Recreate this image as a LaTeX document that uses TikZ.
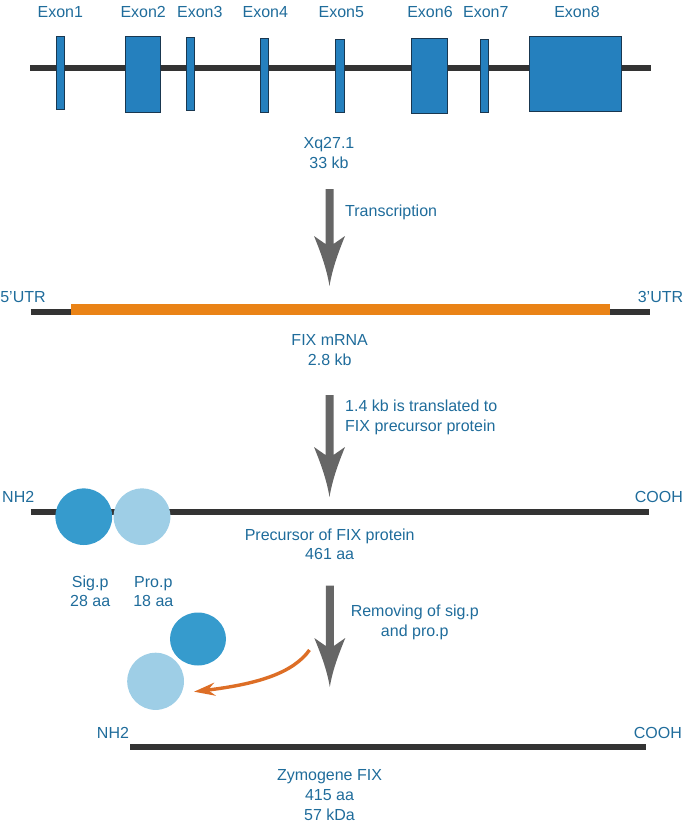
\documentclass[tikz,border=0pt]{standalone}
\usepackage{fontspec}
\setmainfont{Liberation Sans}
\usetikzlibrary{arrows.meta}
\definecolor{txtblue}{RGB}{31,108,155}
\definecolor{exonblue}{RGB}{37,128,190}
\definecolor{exonedge}{RGB}{25,55,80}
\definecolor{darkline}{RGB}{51,51,51}
\definecolor{mrnaorange}{RGB}{234,131,22}
\definecolor{arrorange}{RGB}{221,110,38}
\definecolor{arrowgray}{RGB}{102,102,102}
\definecolor{sigblue}{RGB}{54,155,205}
\definecolor{problue}{RGB}{158,206,230}
\newcommand{\bigdownarrow}[4]{%
  \fill[arrowgray] (#1-4,#2) -- (#1-4,#3+8) -- (#1-15.5,#3)
    .. controls (#1-9,#3+16) and (#1-3,#4-18) .. (#1,#4)
    .. controls (#1+3,#4-18) and (#1+9,#3+16) .. (#1+15.5,#3)
    -- (#1+4,#3+8) -- (#1+4,#2) -- cycle;}
\begin{document}
\begin{tikzpicture}[x=1pt,y=-1pt,
  lbl/.style={text=txtblue, inner sep=0pt, anchor=base, font=\fontsize{16}{19}\selectfont},
  lbll/.style={lbl, anchor=base west},
  lblr/.style={lbl, anchor=base east},
  exonbox/.style={fill=exonblue, draw=exonedge, line width=0.9pt},
  strand/.style={draw=darkline, line width=6pt},
]
\useasboundingbox (0,0) rectangle (685,823);

% ---------- gene ----------
\coordinate (dnaL) at (30,67.5);
\coordinate (dnaR) at (651,67.5);
\draw[strand] (dnaL) -- (dnaR);
\draw[exonbox] (56,36) rectangle (64.6,109);
\draw[exonbox] (125,36) rectangle (160.7,112);
\draw[exonbox] (186,37) rectangle (194.3,110);
\draw[exonbox] (260,38.3) rectangle (268.6,112);
\draw[exonbox] (335.8,39) rectangle (344.5,112.7);
\draw[exonbox] (411.8,38.3) rectangle (447.6,113.3);
\draw[exonbox] (480,39.3) rectangle (488.6,112.7);
\draw[exonbox] (529.7,36) rectangle (621.8,111.3);

\node[lbl] (e1) at (60.3,17) {Exon1};
\node[lbl] (e2) at (143.2,17) {Exon2};
\node[lbl] (e3) at (199.8,17) {Exon3};
\node[lbl] (e4) at (265.3,17) {Exon4};
\node[lbl] (e5) at (341.3,17) {Exon5};
\node[lbl] (e6) at (430,17) {Exon6};
\node[lbl] (e7) at (485.8,17) {Exon7};
\node[lbl] (e8) at (577,17) {Exon8};

\node[lbl] (xq) at (329,148.4) {Xq27.1};
\node[lbl] (kb33) at (329,168.4) {33 kb};

% ---------- transcription ----------
\bigdownarrow{329.5}{189}{236}{286}
\node[lbll] (trans) at (345,216.7) {Transcription};

% ---------- mRNA ----------
\coordinate (mL) at (30.6,312.2);
\coordinate (mR) at (650,312.2);
\draw[draw=darkline, line width=5.7pt] (mL) -- (mR);
\fill[mrnaorange] (70.7,304.3) rectangle (610,315);
\node[lbl] (utr5) at (23,302.7) {5'UTR};
\node[lbl] (utr3) at (660.5,302.7) {3'UTR};
\node[lbl] (mrna) at (329.7,345) {FIX mRNA};
\node[lbl] (kb28) at (329.7,365) {2.8 kb};

% ---------- translation ----------
\bigdownarrow{329.5}{395}{447}{497}
\node[lbll] (tr1) at (345,411.7) {1.4 kb is translated to};
\node[lbll] (tr2) at (345,431) {FIX precursor protein};

% ---------- precursor ----------
\coordinate (pL) at (30.6,512);
\coordinate (pR) at (649,512);
\draw[strand] (pL) -- (pR);
\fill[sigblue] (83.8,516.7) ellipse [x radius=28.4, y radius=28.3];
\fill[problue] (142,516.7) ellipse [x radius=28.4, y radius=28.3];
\node[lbll] (nh2a) at (2,502.7) {NH2};
\node[lblr] (cooha) at (683,502.7) {COOH};
\node[lbl] (prec) at (329.7,540) {Precursor of FIX protein};
\node[lbl] (aa461) at (329.7,559.3) {461 aa};
\node[lbl] (sigp) at (90.2,587.3) {Sig.p};
\node[lbl] (aa28) at (90.2,606) {28 aa};
\node[lbl] (prop) at (153.3,587.3) {Pro.p};
\node[lbl] (aa18) at (153.3,606) {18 aa};

% ---------- removal ----------
\bigdownarrow{329.8}{585.5}{638}{687}
\node[lbl] (rem1) at (414.8,616.7) {Removing of sig.p};
\node[lbl] (rem2) at (414.8,636.7) {and pro.p};
\fill[sigblue] (198,639) ellipse [x radius=28, y radius=26.5];
\fill[problue] (155.6,681.3) ellipse [x radius=28.4, y radius=28.6];
\coordinate (oaS) at (309.5,650);
\coordinate (oaE) at (194,691.7);
\draw[arrorange, line width=3.4pt, -{Stealth[length=21pt,width=13pt,inset=7pt]}]
  (oaS) .. controls (293,673) and (258,684) .. (oaE);

% ---------- zymogene ----------
\coordinate (zL) at (130,747);
\coordinate (zR) at (645.5,747);
\draw[strand] (zL) -- (zR);
\node[lbl] (nh2b) at (113,738.3) {NH2};
\node[lblr] (coohb) at (682,738.3) {COOH};
\node[lbl] (zym) at (329.5,780) {Zymogene FIX};
\node[lbl] (aa415) at (329.5,800) {415 aa};
\node[lbl] (kda) at (329.5,820) {57 kDa};
\end{tikzpicture}
\end{document}
